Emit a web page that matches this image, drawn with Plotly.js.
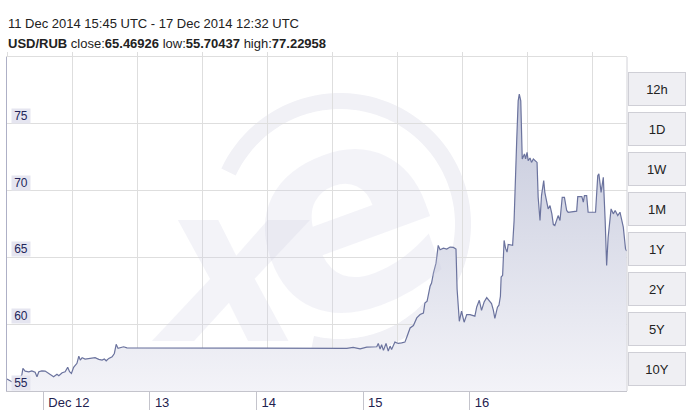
<!DOCTYPE html>
<html><head><meta charset="utf-8">
<script src="https://cdn.plot.ly/plotly-3.0.1.min.js"></script>
<style>html,body{margin:0;padding:0;background:#fff;}#chart{width:686px;height:417px;}</style>
</head><body><div id="chart"></div>
<script>
const times = [
'2014-12-11 15:50','2014-12-11 16:55','2014-12-11 18:20','2014-12-11 19:10','2014-12-11 19:25','2014-12-11 19:55','2014-12-11 20:45','2014-12-11 21:25','2014-12-11 22:10','2014-12-11 22:35','2014-12-11 23:00','2014-12-11 23:40',
'2014-12-12 00:25','2014-12-12 01:15','2014-12-12 01:55','2014-12-12 02:20','2014-12-12 03:05','2014-12-12 03:30','2014-12-12 04:15','2014-12-12 04:55','2014-12-12 05:30','2014-12-12 05:55','2014-12-12 06:20','2014-12-12 06:50','2014-12-12 07:35','2014-12-12 08:00','2014-12-12 08:20','2014-12-12 08:45','2014-12-12 09:25','2014-12-12 10:15','2014-12-12 11:00','2014-12-12 11:40','2014-12-12 12:30','2014-12-12 13:15','2014-12-12 13:45','2014-12-12 14:10','2014-12-12 14:45','2014-12-12 15:30','2014-12-12 16:00','2014-12-12 16:25','2014-12-12 16:50','2014-12-12 17:20','2014-12-12 18:05','2014-12-12 18:50','2014-12-12 20:00','2014-12-12 21:05',
'2014-12-14 20:20','2014-12-14 21:45','2014-12-14 23:20',
'2014-12-15 00:50','2014-12-15 02:20','2014-12-15 03:05','2014-12-15 03:25','2014-12-15 03:50','2014-12-15 04:10','2014-12-15 04:35','2014-12-15 05:10','2014-12-15 05:40','2014-12-15 06:05','2014-12-15 06:25','2014-12-15 07:10','2014-12-15 07:55','2014-12-15 08:40','2014-12-15 09:25','2014-12-15 09:55','2014-12-15 10:35','2014-12-15 11:20','2014-12-15 12:05','2014-12-15 12:50','2014-12-15 13:35','2014-12-15 13:55','2014-12-15 14:25','2014-12-15 15:05','2014-12-15 15:25','2014-12-15 15:50','2014-12-15 16:25','2014-12-15 16:55','2014-12-15 17:20','2014-12-15 18:05','2014-12-15 18:50','2014-12-15 19:35','2014-12-15 20:20','2014-12-15 20:55','2014-12-15 21:10','2014-12-15 21:40','2014-12-15 22:10','2014-12-15 22:45','2014-12-15 23:20',
'2014-12-16 00:05','2014-12-16 01:10','2014-12-16 01:35','2014-12-16 02:10','2014-12-16 02:40','2014-12-16 03:15','2014-12-16 03:50','2014-12-16 04:25','2014-12-16 04:55','2014-12-16 05:20','2014-12-16 05:40','2014-12-16 06:15','2014-12-16 06:35','2014-12-16 06:55','2014-12-16 07:05','2014-12-16 07:25','2014-12-16 07:45','2014-12-16 08:05','2014-12-16 08:25','2014-12-16 08:40','2014-12-16 09:15','2014-12-16 09:40','2014-12-16 10:00','2014-12-16 10:15','2014-12-16 10:35','2014-12-16 10:55','2014-12-16 11:10','2014-12-16 11:30','2014-12-16 11:40','2014-12-16 11:50','2014-12-16 12:20','2014-12-16 12:35','2014-12-16 12:55','2014-12-16 13:10','2014-12-16 13:35','2014-12-16 13:55','2014-12-16 14:20','2014-12-16 14:50','2014-12-16 15:10','2014-12-16 15:25','2014-12-16 15:50','2014-12-16 16:10','2014-12-16 16:40','2014-12-16 16:55','2014-12-16 17:20','2014-12-16 17:40','2014-12-16 18:05','2014-12-16 18:30','2014-12-16 18:50','2014-12-16 19:10','2014-12-16 19:55','2014-12-16 20:20','2014-12-16 20:50','2014-12-16 21:20','2014-12-16 21:50','2014-12-16 22:10',
'2014-12-17 00:05','2014-12-17 00:20','2014-12-17 01:15','2014-12-17 01:35','2014-12-17 01:50','2014-12-17 02:20','2014-12-17 02:40','2014-12-17 04:20','2014-12-17 04:50','2014-12-17 05:05','2014-12-17 05:35','2014-12-17 06:05','2014-12-17 06:30','2014-12-17 06:50','2014-12-17 07:10','2014-12-17 07:50','2014-12-17 08:20','2014-12-17 08:45','2014-12-17 09:20','2014-12-17 09:50','2014-12-17 10:35','2014-12-17 11:05','2014-12-17 11:20'
];
const rates = [
55.90,55.70,55.82,56.19,56.69,56.49,56.44,56.51,56.40,56.07,56.44,56.51,
56.49,56.32,56.19,56.07,56.25,56.14,56.37,56.44,56.77,56.44,56.32,56.77,57.07,57.61,57.31,57.49,57.39,57.44,57.49,57.49,57.37,57.31,57.39,57.26,57.44,57.56,57.81,58.49,58.19,58.23,58.31,58.23,58.23,58.19,
58.19,58.26,58.16,
58.28,58.31,58.31,58.56,58.13,58.46,58.04,58.56,57.99,58.36,58.11,58.66,58.56,58.60,58.66,59.10,59.72,59.90,60.47,60.72,60.84,61.59,61.72,62.84,63.08,63.83,64.57,65.90,65.57,65.69,65.62,65.77,65.75,65.62,62.61,60.22,60.97,60.15,60.72,
60.72,60.60,61.29,61.79,61.04,61.66,61.99,61.79,61.54,61.04,60.43,61.27,61.42,62.09,63.53,63.66,66.27,65.67,65.40,65.97,65.92,65.90,67.76,70.75,73.73,76.72,77.23,76.72,74.03,72.37,72.74,72.37,72.86,72.24,72.44,72.11,72.37,72.24,72.11,69.50,67.76,69.63,70.75,69.87,69.25,68.63,68.88,68.26,67.46,67.39,68.13,67.76,69.50,69.50,68.51,68.38,
68.46,69.55,69.55,69.13,69.63,69.63,68.38,68.38,71.12,71.25,69.87,70.99,67.76,64.40,66.49,68.63,68.26,68.51,68.13,68.38,67.26,65.65,65.47
];
const dayTicks = ['2014-12-12','2014-12-13','2014-12-14','2014-12-15','2014-12-16'];
const dayLabels = ['Dec 12','13','14','15','16'];
const yTicks = [55,60,65,70,75];
const rangeButtons = ['12h','1D','1W','1M','1Y','2Y','5Y','10Y'];
const periodText = '11 Dec 2014 15:45 UTC - 17 Dec 2014 12:32 UTC';
const pairName = 'USD/RUB';
const closeText = '65.46926', lowText = '55.70437', highText = '77.22958';

const W = 686, H = 417, L = 7, R = 59, T = 57, B = 26;
const PW = W - L - R, PH = H - T - B;
const px = X => (X - L) / PW;
const py = Y => (H - B - Y) / PH;
const FONT = 'Arial, "Liberation Sans", sans-serif';

// watermark arc (decoration)
const cx = 340, cy = 224, rr = 123;
let arc = '';
for (let a = 155; a >= -103; a -= 3) {
  const t = a * Math.PI / 180;
  const X = cx + rr * Math.cos(t), Y = cy - rr * Math.sin(t);
  arc += (arc ? ' L ' : 'M ') + px(X).toFixed(4) + ',' + py(Y).toFixed(4);
}
const WM = 'rgba(205,205,225,0.24)';

const annotations = [];
annotations.push({xref:'paper', yref:'paper', x:px(230), y:py(264), text:'x', showarrow:false,
  font:{family:'DejaVu Sans', size:222, color:WM, weight:'bold', style:'italic'}, xanchor:'center', yanchor:'middle'});
annotations.push({xref:'paper', yref:'paper', x:px(342), y:py(212), text:'e', showarrow:false, textangle:-20,
  font:{family:'DejaVu Sans', size:280, color:WM, weight:'bold'}, xanchor:'center', yanchor:'middle'});

yTicks.forEach(v => annotations.push({xref:'paper', yref:'y', x:0, y:v, xanchor:'left', yanchor:'bottom', xshift:4, yshift:0,
  text:String(v), showarrow:false, bgcolor:'#e5e5f0', width:18, height:14, borderpad:0,
  font:{family:FONT, size:12, color:'#23255a'}}));

rangeButtons.forEach((b, i) => annotations.push({xref:'paper', yref:'paper', x:px(657), y:py(89 + 40 * i),
  xanchor:'center', yanchor:'middle', text:b, showarrow:false, bgcolor:'#efeff3', bordercolor:'#cfcfd6', borderwidth:1,
  width:56, height:32, borderpad:0, font:{family:FONT, size:13, color:'#222'}}));

annotations.push({xref:'paper', yref:'paper', x:0, y:py(24), xanchor:'left', yanchor:'middle', showarrow:false,
  text:periodText, font:{family:FONT, size:13, color:'#222'}, xshift:-1});
annotations.push({xref:'paper', yref:'paper', x:0, y:py(44), xanchor:'left', yanchor:'middle', showarrow:false,
  text:'<b>' + pairName + '</b> close:<b>' + closeText + '</b> low:<b>' + lowText + '</b> high:<b>' + highText + '</b>',
  font:{family:FONT, size:13, color:'#222'}, xshift:-1});

const data = [
  {type:'scatter', mode:'lines', x:times, y:rates, line:{color:'#6b739e', width:1.2},
   fill:'tozeroy', fillcolor:'#dcdee9',
   fillgradient:{type:'vertical', start:55, stop:78, colorscale:[[0,'#f3f3f8'],[1,'#c3c7da']]},
   hoverinfo:'skip', showlegend:false},
  {type:'scatter', mode:'lines', x:[], y:[], xaxis:'x2', hoverinfo:'skip', showlegend:false}
];

const layout = {
  width:W, height:H, margin:{l:L, r:R, t:T, b:B}, paper_bgcolor:'#fff', plot_bgcolor:'#fff', showlegend:false,
  xaxis:{type:'date', range:['2014-12-11 15:50','2014-12-17 11:25'], showgrid:false, zeroline:false,
    tickmode:'array', tickvals:dayTicks, ticktext:dayLabels, ticks:'outside', ticklen:18, tickcolor:'#c4c4cc', tickwidth:1,
    showline:true, linecolor:'#c4c4cc', ticklabelposition:'outside right', ticklabelstandoff:-1, ticklabelshift:4,
    tickfont:{family:FONT, size:13, color:'#1f2250'}, fixedrange:true},
  xaxis2:{overlaying:'x', anchor:'y', side:'top', range:[0, PW / 65], tick0:0, dtick:1, showgrid:true, gridcolor:'#dedede',
    showticklabels:false, ticks:'outside', ticklen:4, tickcolor:'#dedede', showline:true, linecolor:'#dedede', zeroline:false},
  yaxis:{range:[55,80], tick0:55, dtick:5, showgrid:true, gridcolor:'#dedede', showticklabels:false, showline:true,
    linecolor:'#aeb0c6', zeroline:false, ticks:'', fixedrange:true},
  shapes:[
    {type:'path', xref:'paper', yref:'paper', path:arc, line:{color:'#f1f1f6', width:16}, layer:'below'},
    {type:'line', xref:'paper', yref:'paper', x0:1, x1:1, y0:0, y1:1, line:{color:'#d2d2d8', width:1}}
  ],
  annotations:annotations
};

Plotly.newPlot('chart', data, layout, {displayModeBar:false, staticPlot:true});
</script>
</body></html>
